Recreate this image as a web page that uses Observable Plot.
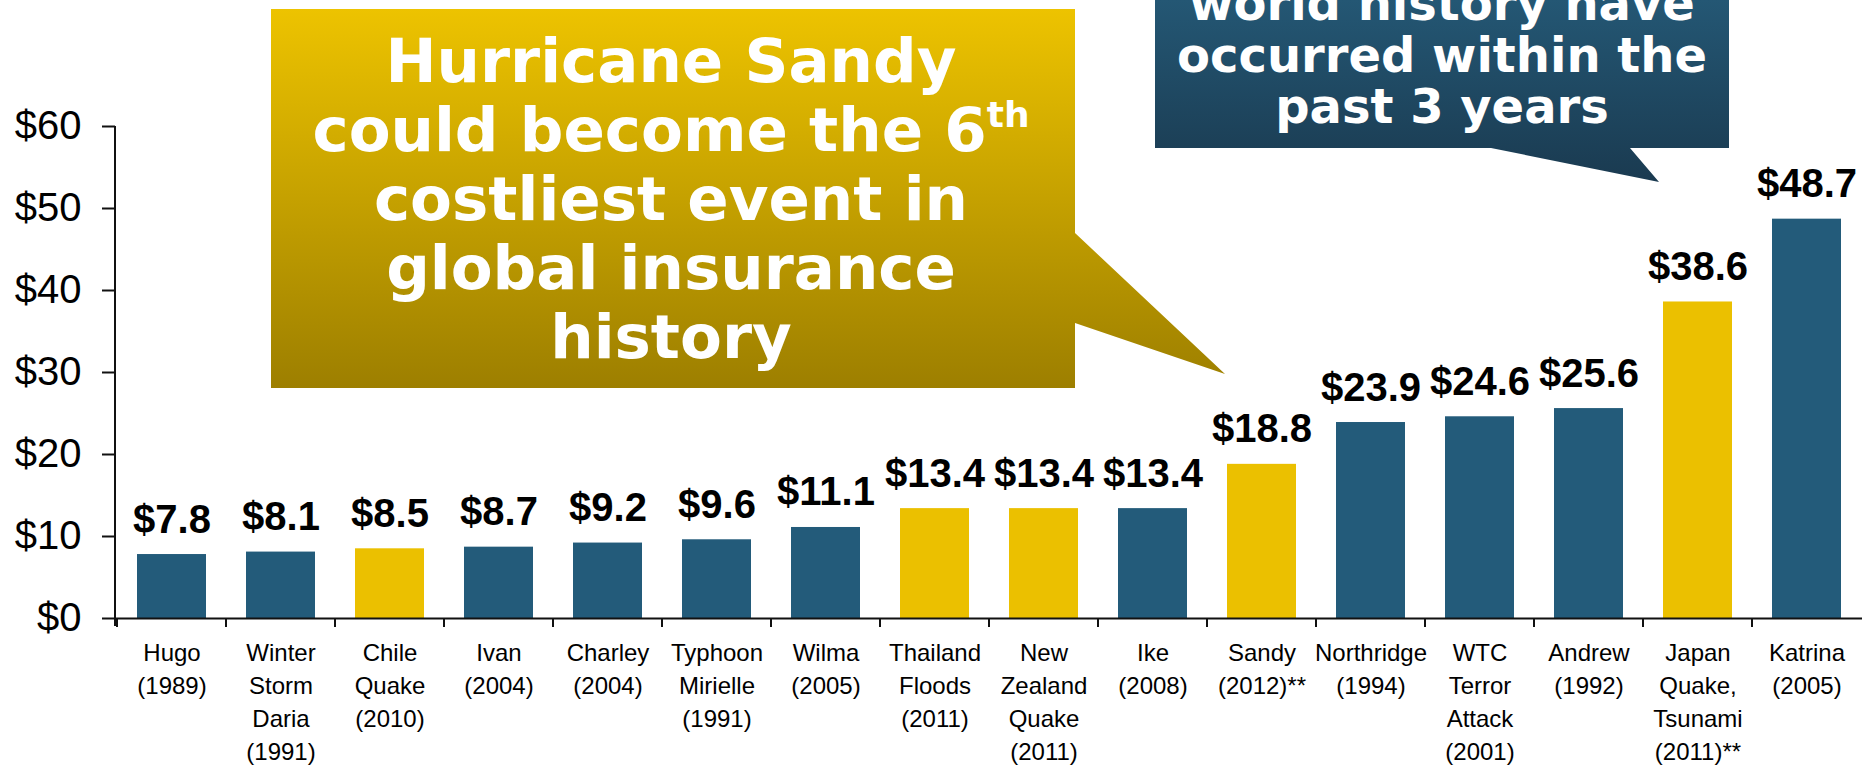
<!DOCTYPE html>
<html>
<head>
<meta charset="utf-8">
<script src="https://cdn.jsdelivr.net/npm/d3@7"></script>
<script src="https://cdn.jsdelivr.net/npm/@observablehq/plot@0.6"></script>
<style>
  html, body { margin: 0; padding: 0; background: #fff; }
  #chart { width: 1862px; height: 766px; overflow: hidden; }
</style>
</head>
<body>
<div id="chart"></div>
<script>
// ---- data ----
const events = [
  "Hugo (1989)", "Winter Storm Daria (1991)", "Chile Quake (2010)", "Ivan (2004)",
  "Charley (2004)", "Typhoon Mirielle (1991)", "Wilma (2005)", "Thailand Floods (2011)",
  "New Zealand Quake (2011)", "Ike (2008)", "Sandy (2012)**", "Northridge (1994)",
  "WTC Terror Attack (2001)", "Andrew (1992)", "Japan Quake, Tsunami (2011)**", "Katrina (2005)"
];
const tickLabels = [
  "Hugo\n(1989)", "Winter\nStorm\nDaria\n(1991)", "Chile\nQuake\n(2010)", "Ivan\n(2004)",
  "Charley\n(2004)", "Typhoon\nMirielle\n(1991)", "Wilma\n(2005)", "Thailand\nFloods\n(2011)",
  "New\nZealand\nQuake\n(2011)", "Ike\n(2008)", "Sandy\n(2012)**", "Northridge\n(1994)",
  "WTC\nTerror\nAttack\n(2001)", "Andrew\n(1992)", "Japan\nQuake,\nTsunami\n(2011)**", "Katrina\n(2005)"
];
const losses = [7.8, 8.1, 8.5, 8.7, 9.2, 9.6, 11.1, 13.4, 13.4, 13.4, 18.8, 23.9, 24.6, 25.6, 38.6, 48.7];
const groups = ["Other", "Other", "2010-2012", "Other", "Other", "Other", "Other", "2010-2012",
                "2010-2012", "Other", "2010-2012", "Other", "Other", "Other", "2010-2012", "Other"];
const groupDomain = ["Other", "2010-2012"];
const yTicks = [0, 10, 20, 30, 40, 50, 60];
const goldNote = ["Hurricane Sandy", "could become the 6", "costliest event in", "global insurance", "history"];
const blueNote = ["world history have", "occurred within the", "past 3 years"];

const BLUE = "#235B7A", GOLD = "#EBC000";
const data = events.map((e, i) => ({event: e, label: tickLabels[i], loss: losses[i], group: groups[i]}));

const plot = Plot.plot({
  width: 1862,
  height: 766,
  marginLeft: 115,
  marginRight: 0,
  marginTop: 126,
  marginBottom: 148,
  style: {fontFamily: "'Liberation Sans', Arial, sans-serif", background: "#fff", color: "#000"},
  x: {domain: events, paddingInner: 0.37, paddingOuter: 0.185, axis: null},
  y: {domain: [0, 60], axis: null},
  color: {domain: groupDomain, range: [BLUE, GOLD]},
  marks: [
    Plot.barY(data, {x: "event", y: "loss", fill: "group"}),
    Plot.ruleY([0], {stroke: "#111", strokeWidth: 2}),
    Plot.axisY({ticks: yTicks, tickFormat: d => `$${d}`, tickSize: 13, tickPadding: 21, label: null,
                fontSize: 40, stroke: "#111", strokeWidth: 2, fill: "#000"}),
    Plot.text(data, {x: "event", y: "loss", text: d => `$${d.loss.toFixed(1)}`, dy: -22,
                     lineAnchor: "bottom", fontSize: 40, fontWeight: "bold", fill: "#000"}),
    Plot.text(data, {x: "event", y: 0, text: "label", lineAnchor: "top", dy: 19,
                     fontSize: 24, lineHeight: 1.375, fill: "#000"})
  ]
});

document.getElementById("chart").appendChild(plot);

// ---- axis line and category separator ticks ----
const sx = plot.scale("x"), sy = plot.scale("y");
const svg = d3.select(plot);
const y0 = sy.apply(0), yTop = sy.apply(60);
const gap = (sx.step - sx.bandwidth) / 2;
svg.append("line").attr("x1", 115).attr("x2", 115).attr("y1", yTop).attr("y2", y0 + 8)
  .attr("stroke", "#111").attr("stroke-width", 2);
events.forEach(e => {
  const xb = sx.apply(e) - gap;
  svg.append("line").attr("x1", xb).attr("x2", xb).attr("y1", y0).attr("y2", y0 + 9)
    .attr("stroke", "#111").attr("stroke-width", 2);
});

// ---- callouts ----
const defs = svg.append("defs");
const gg = defs.append("linearGradient").attr("id", "goldGrad")
  .attr("gradientUnits", "userSpaceOnUse").attr("x1", 0).attr("y1", 9).attr("x2", 0).attr("y2", 388);
gg.append("stop").attr("offset", "0%").attr("stop-color", "#EDC300");
gg.append("stop").attr("offset", "100%").attr("stop-color", "#9D7F00");
const bg = defs.append("linearGradient").attr("id", "blueGrad")
  .attr("gradientUnits", "userSpaceOnUse").attr("x1", 0).attr("y1", 0).attr("x2", 0).attr("y2", 183);
bg.append("stop").attr("offset", "0%").attr("stop-color", "#245774");
bg.append("stop").attr("offset", "100%").attr("stop-color", "#1A3A50");

const notes = svg.append("g");
notes.append("path")
  .attr("d", "M271,9 L1075,9 L1075,233 L1225,374 L1075,323 L1075,388 L271,388 Z")
  .attr("fill", "url(#goldGrad)");
notes.append("path")
  .attr("d", "M1155,-80 L1729,-80 L1729,148 L1630,148 L1659,182 L1491,148 L1155,148 Z")
  .attr("fill", "url(#blueGrad)");

const noteFont = "'DejaVu Sans', Verdana, sans-serif";
const gt = notes.append("text").attr("text-anchor", "middle").attr("fill", "#fff")
  .attr("font-family", noteFont).attr("font-weight", "bold").attr("font-size", 61);
goldNote.forEach((s, i) => {
  gt.append("tspan").attr("x", 671).attr("y", 82 + i * 69).text(s);
  if (i === 1) {
    gt.append("tspan").attr("dy", -24).attr("font-size", 36).text("th");
  }
});
const bt = notes.append("text").attr("text-anchor", "middle").attr("fill", "#fff")
  .attr("font-family", noteFont).attr("font-weight", "bold").attr("font-size", 48);
blueNote.forEach((s, i) => {
  bt.append("tspan").attr("x", 1442).attr("y", 20 + i * 51.5).text(s);
});
</script>
</body>
</html>
